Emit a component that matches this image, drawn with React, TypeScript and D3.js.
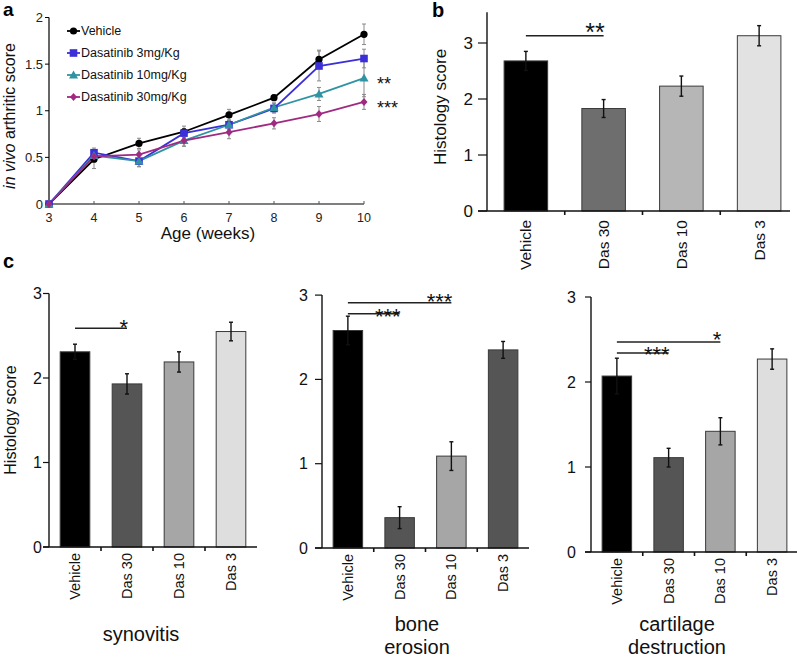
import React from "react";
import * as d3 from "d3";

const FONT = "Liberation Sans, Arial, Helvetica, sans-serif";

// ---- Panel a data ----
const weeks = [3, 4, 5, 6, 7, 8, 9, 10];
const seriesNames = ["Vehicle", "Dasatinib 3mg/Kg", "Dasatinib 10mg/Kg", "Dasatinib 30mg/Kg"];
const vehicleA = [0, 0.48, 0.65, 0.775, 0.955, 1.14, 1.55, 1.82];
const vehicleErr = [0, 0.1, 0.055, 0.06, 0.06, 0.03, 0.1, 0.11];
const das3A = [0, 0.55, 0.46, 0.76, 0.85, 1.025, 1.48, 1.56];
const das3Err = [0, 0.05, 0.06, 0.05, 0.05, 0.05, 0.16, 0.1];
const das10A = [0, 0.52, 0.46, 0.68, 0.85, 1.035, 1.18, 1.35];
const das10Err = [0, 0.05, 0.06, 0.06, 0.05, 0.05, 0.07, 0.2];
const das30A = [0, 0.51, 0.53, 0.68, 0.77, 0.865, 0.965, 1.095];
const das30Err = [0, 0.05, 0.05, 0.06, 0.07, 0.06, 0.08, 0.08];
const seriesColors = ["#000000", "#3b2fd8", "#2f93a3", "#a02a82"];
const seriesMarkers = ["circle", "square", "triangle", "diamond"];
const aYTicks = [0, 0.5, 1, 1.5, 2];
const aSig = ["", "", "**", "***"];

// ---- Bar data ----
const categories = ["Vehicle", "Das 30", "Das 10", "Das 3"];
const histVals = [2.68, 1.83, 2.23, 3.13];
const histErr = [0.17, 0.16, 0.18, 0.18];
const synVals = [2.31, 1.93, 2.19, 2.55];
const synErr = [0.09, 0.12, 0.12, 0.11];
const boneVals = [2.58, 0.36, 1.09, 2.35];
const boneErr = [0.17, 0.13, 0.17, 0.1];
const cartVals = [2.07, 1.11, 1.42, 2.27];
const cartErr = [0.21, 0.11, 0.16, 0.12];
const barTicks = [0, 1, 2, 3];

function Marker({ type, x, y, color }: any) {
  if (type === "circle") return <circle cx={x} cy={y} r={3.6} fill={color} />;
  if (type === "square") return <rect x={x - 3.8} y={y - 3.8} width={7.6} height={7.6} fill={color} />;
  if (type === "triangle")
    return <path d={`M${x},${y - 4.5}L${x + 4.5},${y + 3.5}L${x - 4.5},${y + 3.5}Z`} fill={color} />;
  return <path d={`M${x},${y - 4}L${x + 3.5},${y}L${x},${y + 4}L${x - 3.5},${y}Z`} fill={color} />;
}

function PanelA() {
  const x = d3.scaleLinear().domain([3, 10]).range([49, 364]);
  const y = d3.scaleLinear().domain([0, 2]).range([204, 17.5]);
  const data = [vehicleA, das3A, das10A, das30A];
  const errs = [vehicleErr, das3Err, das10Err, das30Err];
  const line = d3
    .line<number>()
    .x((_, i) => x(weeks[i]))
    .y((d) => y(d));
  const legendY = [31, 53, 75, 97];
  return (
    <g fontFamily={FONT}>
      {data.map((s, si) =>
        s.map((v, i) =>
          errs[si][i] > 0 ? (
            <g key={`e${si}-${i}`} stroke="#8a8a8a" strokeWidth={1}>
              <line x1={x(weeks[i])} x2={x(weeks[i])} y1={y(v - errs[si][i])} y2={y(v + errs[si][i])} />
              <line x1={x(weeks[i]) - 2} x2={x(weeks[i]) + 2} y1={y(v - errs[si][i])} y2={y(v - errs[si][i])} />
              <line x1={x(weeks[i]) - 2} x2={x(weeks[i]) + 2} y1={y(v + errs[si][i])} y2={y(v + errs[si][i])} />
            </g>
          ) : null
        )
      )}
      <line x1={49} x2={49} y1={y(2)} y2={y(0)} stroke="#000" strokeWidth={1.2} />
      <line x1={49} x2={x(10)} y1={y(0)} y2={y(0)} stroke="#555" strokeWidth={1.6} />
      {aYTicks.map((t) => (
        <g key={t}>
          <line x1={45} x2={49} y1={y(t)} y2={y(t)} stroke="#000" />
          <text x={43} y={y(t)} dy="0.35em" textAnchor="end" fontSize={13} fill="#222">
            {t}
          </text>
        </g>
      ))}
      {weeks.map((w) => (
        <g key={w}>
          <line x1={x(w)} x2={x(w)} y1={y(0)} y2={y(0) - 3} stroke="#555" />
          <text x={x(w)} y={222} textAnchor="middle" fontSize={12.5} fill="#222">
            {w}
          </text>
        </g>
      ))}
      <text x={208} y={239} textAnchor="middle" fontSize={17} fill="#111">
        Age (weeks)
      </text>
      <text transform={`translate(15,116) rotate(-90)`} textAnchor="middle" fontSize={16} fill="#111">
        <tspan fontStyle="italic">in vivo</tspan> arthritic score
      </text>
      {data.map((s, si) => (
        <path key={`l${si}`} d={line(s) || ""} fill="none" stroke={seriesColors[si]} strokeWidth={1.8} />
      ))}
      {data.map((s, si) =>
        s.map((v, i) => (
          <Marker key={`m${si}-${i}`} type={seriesMarkers[si]} x={x(weeks[i])} y={y(v)} color={seriesColors[si]} />
        ))
      )}
      {data.map((s, si) =>
        aSig[si] ? (
          <text key={`s${si}`} x={377} y={y(s[s.length - 1]) + 12} fontSize={18} fill="#111">
            {aSig[si]}
          </text>
        ) : null
      )}
      {seriesNames.map((n, i) => (
        <g key={n}>
          <line x1={67} x2={80} y1={legendY[i]} y2={legendY[i]} stroke={seriesColors[i]} strokeWidth={1.8} />
          <Marker type={seriesMarkers[i]} x={73.5} y={legendY[i]} color={seriesColors[i]} />
          <text x={81} y={legendY[i]} dy="0.35em" fontSize={12.5} fill="#111">
            {n}
          </text>
        </g>
      ))}
      <text x={3} y={16} fontSize={19} fontWeight="bold" fill="#000">
        a
      </text>
    </g>
  );
}

interface SigSpec {
  from: number;
  to: number;
  y: number;
  text: string;
  dy: number;
}

interface BarPanelProps {
  vals: number[];
  errs: number[];
  colors: string[];
  x0: number;
  x1: number;
  axisEnd: number;
  y0: number;
  unit: number;
  yMax: number;
  labelEnd: number;
  tickLen: number;
  fontTick: number;
  fontCat: number;
  catGap: number;
  sig: SigSpec[];
  sigFont: number;
  title?: string[];
  titleX?: number;
  titleY?: number;
  ylabel?: { x: number; y: number };
  barFrac: number;
}

function BarPanel(p: BarPanelProps) {
  const xb = d3
    .scaleBand<string>()
    .domain(categories)
    .range([p.x0, p.x1])
    .paddingInner(1 - p.barFrac)
    .paddingOuter((1 - p.barFrac) / 2);
  const y = d3.scaleLinear().domain([0, 1]).range([p.y0, p.y0 - p.unit]);
  const bw = xb.bandwidth();
  const step = xb.step();
  const cx = (c: string) => (xb(c) as number) + bw / 2;
  return (
    <g fontFamily={FONT}>
      {categories.map((c, i) => (
        <g key={c}>
          <rect x={xb(c)} y={y(p.vals[i])} width={bw} height={y(0) - y(p.vals[i])} fill={p.colors[i]} stroke="#3a3a3a" strokeWidth={1} />
          <g stroke="#111" strokeWidth={1.4}>
            <line x1={cx(c)} x2={cx(c)} y1={y(p.vals[i] - p.errs[i])} y2={y(p.vals[i] + p.errs[i])} />
            <line x1={cx(c) - 2} x2={cx(c) + 2} y1={y(p.vals[i] - p.errs[i])} y2={y(p.vals[i] - p.errs[i])} />
            <line x1={cx(c) - 2} x2={cx(c) + 2} y1={y(p.vals[i] + p.errs[i])} y2={y(p.vals[i] + p.errs[i])} />
          </g>
        </g>
      ))}
      <line x1={p.x0} x2={p.x0} y1={y(p.yMax)} y2={y(0)} stroke="#111" strokeWidth={1.4} />
      <line x1={p.x0 - p.tickLen} x2={p.axisEnd} y1={y(0)} y2={y(0)} stroke="#111" strokeWidth={1.6} />
      {barTicks.map((t) => (
        <g key={t}>
          <line x1={p.x0 - p.tickLen} x2={p.x0} y1={y(t)} y2={y(t)} stroke="#111" strokeWidth={1.2} />
          <text x={p.labelEnd} y={y(t)} dy="0.36em" textAnchor="end" fontSize={p.fontTick} fill="#111">
            {t}
          </text>
        </g>
      ))}
      {categories.slice(1).map((c) => (
        <line key={c} x1={xb(c)! - (step - bw) / 2} x2={xb(c)! - (step - bw) / 2} y1={y(0)} y2={y(0) + 4} stroke="#111" strokeWidth={1.6} />
      ))}
      {categories.map((c) => (
        <text
          key={c}
          transform={`translate(${cx(c)},${y(0) + p.catGap}) rotate(-90)`}
          textAnchor="end"
          dominantBaseline="central"
          fontSize={p.fontCat}
          fill="#111"
        >
          {c}
        </text>
      ))}
      {p.sig.map((s, i) => (
        <g key={i}>
          <line x1={cx(categories[s.from])} x2={cx(categories[s.to])} y1={y(s.y)} y2={y(s.y)} stroke="#222" strokeWidth={1.5} />
          <text x={cx(categories[s.to]) + 1} y={y(s.y) + s.dy} textAnchor="end" fontSize={p.sigFont} fill="#111">
            {s.text}
          </text>
        </g>
      ))}
      {p.ylabel ? (
        <text transform={`translate(${p.ylabel.x},${p.ylabel.y}) rotate(-90)`} textAnchor="middle" dominantBaseline="central" fontSize={p.fontTick} fill="#111">
          Histology score
        </text>
      ) : null}
      {p.title
        ? p.title.map((t, i) => (
            <text key={t} x={p.titleX} y={(p.titleY as number) + i * 23} textAnchor="middle" fontSize={20} fill="#111">
              {t}
            </text>
          ))
        : null}
    </g>
  );
}

export default function App() {
  return (
    <svg width={797} height={660} style={{ display: "block", position: "absolute", left: 0, top: 0, background: "#fff" }}>
      <rect width={797} height={660} fill="#fff" />
      <PanelA />
      <BarPanel
        vals={histVals}
        errs={histErr}
        colors={["#000000", "#6e6e6e", "#b6b6b6", "#e2e2e2"]}
        x0={487}
        x1={798}
        axisEnd={790}
        y0={211}
        unit={56}
        yMax={3.55}
        labelEnd={473}
        tickLen={9}
        fontTick={17}
        fontCat={15.5}
        catGap={9}
        barFrac={0.56}
        sigFont={25}
        sig={[{ from: 0, to: 1, y: 3.13, text: "**", dy: 5 }]}
        ylabel={{ x: 440, y: 107 }}
      />
      <text x={432} y={17} fontSize={20} fontWeight="bold" fontFamily={FONT} fill="#000">
        b
      </text>
      <text x={3} y={268} fontSize={20} fontWeight="bold" fontFamily={FONT} fill="#000">
        c
      </text>
      <BarPanel
        vals={synVals}
        errs={synErr}
        colors={["#000000", "#555555", "#a6a6a6", "#dedede"]}
        x0={49}
        x1={257}
        axisEnd={257}
        y0={547}
        unit={84.5}
        yMax={3}
        labelEnd={42}
        tickLen={6}
        fontTick={16}
        fontCat={14.5}
        catGap={6}
        barFrac={0.57}
        sigFont={22}
        sig={[{ from: 0, to: 1, y: 2.59, text: "*", dy: 6.5 }]}
        ylabel={{ x: 10, y: 420 }}
        title={["synovitis"]}
        titleX={141}
        titleY={641}
      />
      <BarPanel
        vals={boneVals}
        errs={boneErr}
        colors={["#000000", "#555555", "#a6a6a6", "#555555"]}
        x0={322}
        x1={529}
        axisEnd={529}
        y0={548}
        unit={84.3}
        yMax={3}
        labelEnd={308}
        tickLen={7}
        fontTick={16}
        fontCat={14.5}
        catGap={6}
        barFrac={0.57}
        sigFont={22}
        sig={[
          { from: 0, to: 1, y: 2.78, text: "***", dy: 10 },
          { from: 0, to: 2, y: 2.91, text: "***", dy: 6.5 },
        ]}
        title={["bone", "erosion"]}
        titleX={417}
        titleY={631}
      />
      <BarPanel
        vals={cartVals}
        errs={cartErr}
        colors={["#000000", "#555555", "#a6a6a6", "#dedede"]}
        x0={591}
        x1={798}
        axisEnd={797}
        y0={552}
        unit={85}
        yMax={3}
        labelEnd={576}
        tickLen={6}
        fontTick={16}
        fontCat={14.5}
        catGap={6}
        barFrac={0.57}
        sigFont={22}
        sig={[
          { from: 0, to: 1, y: 2.34, text: "***", dy: 9 },
          { from: 0, to: 2, y: 2.47, text: "*", dy: 4.5 },
        ]}
        title={["cartilage", "destruction"]}
        titleX={677}
        titleY={631}
      />
    </svg>
  );
}
